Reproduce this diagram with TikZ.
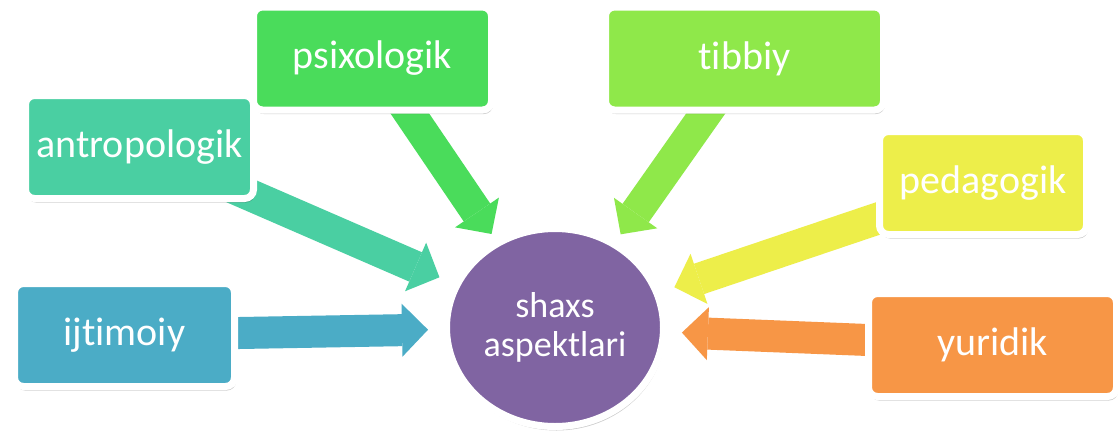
\documentclass[tikz,border=0pt]{standalone}
\usepackage{fontspec}
\setmainfont{Carlito}[Ligatures=NoCommon]
\usetikzlibrary{arrows.meta, positioning, calc, shapes.geometric, shadows}
\definecolor{AntroTeal}{HTML}{4ACFA2}
\definecolor{PsixGreen}{HTML}{4ADC5B}
\definecolor{TibbLime}{HTML}{8FE84A}
\definecolor{PedaYellow}{HTML}{EDEE4A}
\definecolor{IjtiAqua}{HTML}{4BACC6}
\definecolor{YuriOrange}{HTML}{F79646}
\definecolor{CorePurple}{HTML}{8064A2}
\pgfdeclarelayer{background}
\pgfsetlayers{background,main}

\begin{document}
\begin{tikzpicture}[x=1pt, y=-1pt,
    aspect/.style={rectangle, rounded corners=9pt, draw=white, line width=7pt,
        text=white, inner sep=0pt, minimum height=103pt,
        font=\fontsize{40}{44}\selectfont,
        drop shadow={shadow xshift=1.5pt, shadow yshift=-4pt, opacity=0.2, fill=black}},
    core/.style={ellipse, draw=white, line width=7pt, fill=CorePurple,
        text=white, align=center, inner sep=0pt,
        minimum width=217pt, minimum height=198pt,
        font=\fontsize{36}{39}\selectfont,
        drop shadow={shadow xshift=1.5pt, shadow yshift=-4pt, opacity=0.2, fill=black}},
    feed/.style={line width=32pt, -{Triangle[length=26pt, width=53pt, line width=0pt]}}]
    \useasboundingbox (0,0) rectangle (1119,432);

    % Centre
    \node[core] (shaxs) at (555,327.5) {shaxs\\aspektlari};

    % Aspect boxes
    \node[aspect, fill=AntroTeal, minimum width=228pt] (antro) at (139.5,147) {antropologik};
    \node[aspect, fill=PsixGreen, minimum width=238pt] (psix) at (372.5,58.5) {psixologik};
    \node[aspect, fill=TibbLime, minimum width=278pt] (tibb) at (744.5,58.5) {tibbiy};
    \node[aspect, fill=PedaYellow, minimum width=207pt] (peda) at (983,183) {pedagogik};
    \node[aspect, fill=IjtiAqua, minimum width=220pt] (ijti) at (124.5,335) {ijtimoiy};
    \node[aspect, fill=YuriOrange, minimum width=248pt] (yuri) at (992.5,345) {yuridik};

    % Block arrows, kept under the boxes
    \begin{pgfonlayer}{background}
        \fill[white] (0,0) rectangle (1119,432);
        \draw[feed, AntroTeal] (antro.center) -- ($(shaxs.center)!126pt!(antro.center)$);
        \draw[feed, PsixGreen] (psix.center) -- ($(shaxs.center)!113pt!(psix.center)$);
        \draw[feed, TibbLime] (tibb.center) -- ($(shaxs.center)!114pt!(tibb.center)$);
        \draw[feed, PedaYellow] (peda.center) -- ($(shaxs.center)!126pt!(peda.center)$);
        \draw[feed, IjtiAqua] (ijti.center) -- ($(shaxs.center)!127pt!(ijti.center)$);
        \draw[feed, YuriOrange] (yuri.center) -- ($(shaxs.center)!127pt!(yuri.center)$);
    \end{pgfonlayer}
\end{tikzpicture}
\end{document}
